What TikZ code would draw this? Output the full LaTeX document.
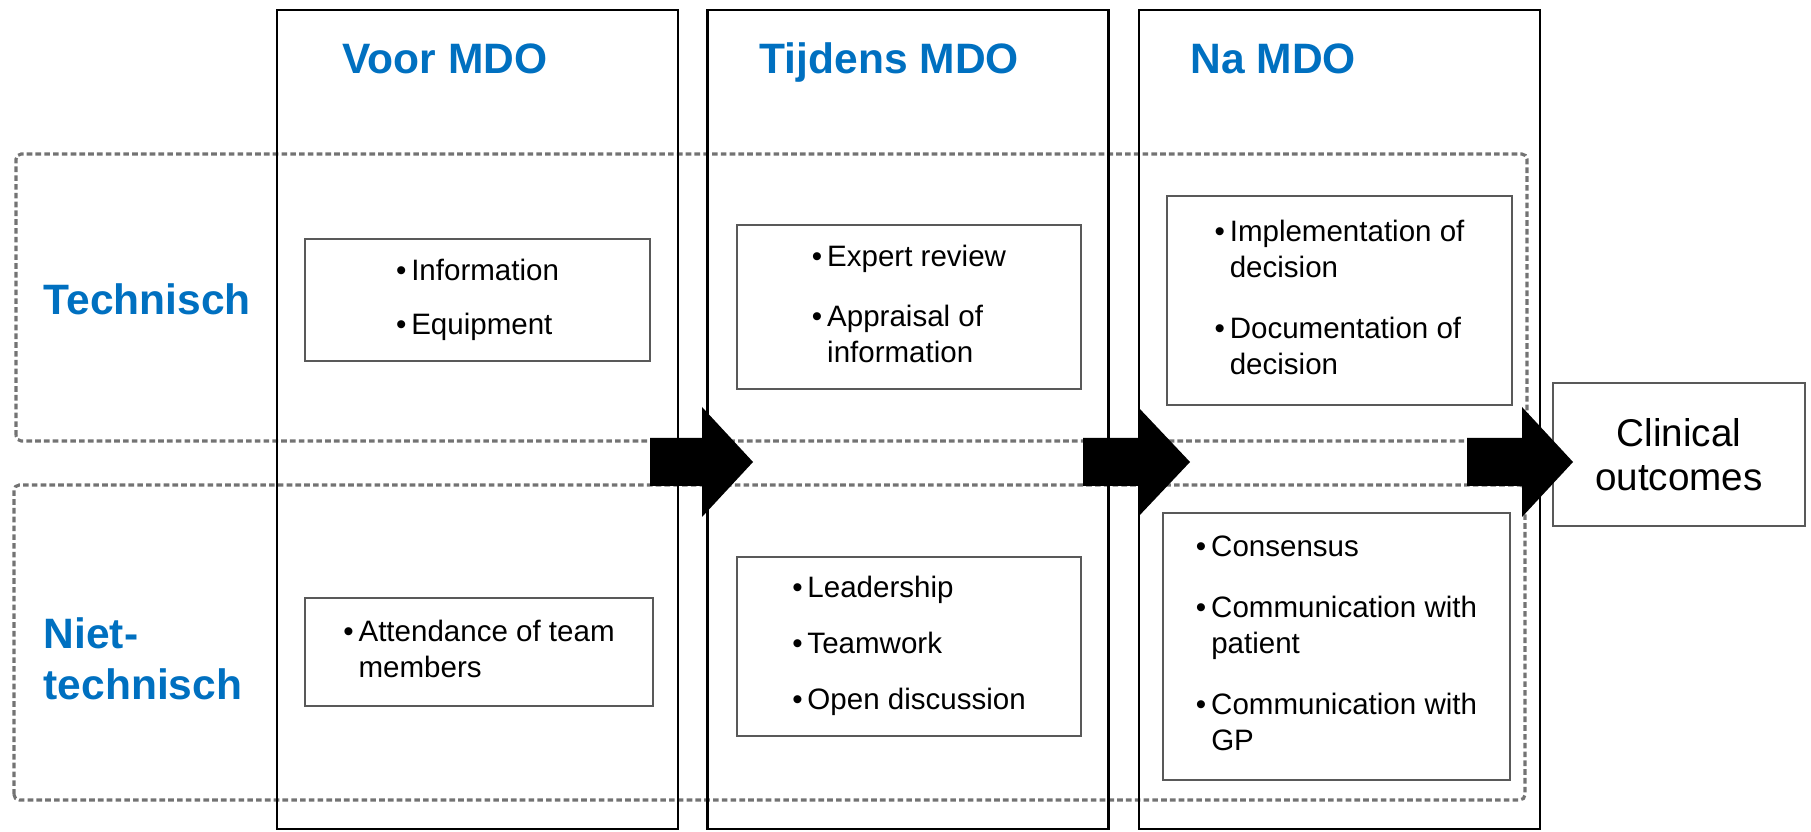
\documentclass[tikz,border=0pt]{standalone}
\usepackage{fontspec}
\setmainfont{Liberation Sans}
\usetikzlibrary{positioning}
\definecolor{mdoblue}{HTML}{0070C0}
\newcommand{\itemfont}{\fontsize{8.4}{10.2}\selectfont}
\tikzset{
  phase/.style={draw, thick, minimum width=4.01cm, minimum height=8.19cm},
  band/.style={draw=black!55, dash pattern=on 1.6pt off 0.9pt, line width=0.9pt, rounded corners=1.5pt},
  itembox/.style={draw=black!65, line width=0.6pt, inner sep=0pt},
  head/.style={text=mdoblue, font=\fontsize{12.1}{14.5}\selectfont\bfseries, align=left, inner sep=0pt},
}

\begin{document}
\begin{tikzpicture}
    \useasboundingbox (0,0) rectangle (18.11,8.32);
    \draw[band] (0.16,3.91) rectangle (15.27,6.78);
    \draw[band] (0.14,0.32) rectangle (15.25,3.47);

    \node[phase] (voor) at (4.775,4.125) {};
    \node[phase] (tijdens) at (9.08,4.125) {};
    \node[phase] (na) at (13.395,4.125) {};

    \node[head, anchor=base west] (hvoor) at (3.42,7.58) {Voor MDO};
    \node[head, anchor=base west] (htijdens) at (7.59,7.58) {Tijdens MDO};
    \node[head, anchor=base west] (hna) at (11.90,7.58) {Na MDO};
    \node[head, anchor=base west] (ltech) at (0.43,5.17) {Technisch};
    \node[head, anchor=west] (lniet) at (0.43,1.73) {Niet-\\technisch};

    \node[itembox, minimum width=3.45cm, minimum height=1.22cm] (voorT) at (4.775,5.32)
        {\itemfont\begin{tabular}{@{}l@{\,}l@{}}\textbullet & Information\\[5.2pt] \textbullet & Equipment\end{tabular}};
    \node[itembox, minimum width=3.48cm, minimum height=1.08cm] (voorN) at (4.79,1.80)
        {\itemfont\begin{tabular}{@{}l@{\,}l@{}}\textbullet & Attendance of team\\ & members\end{tabular}};
    \node[itembox, minimum width=3.44cm, minimum height=1.64cm] (tijdT) at (9.09,5.25)
        {\itemfont\begin{tabular}{@{}l@{\,}l@{}}\textbullet & Expert review\\[7pt] \textbullet & Appraisal of\\ & information\end{tabular}};
    \node[itembox, minimum width=3.44cm, minimum height=1.79cm] (tijdN) at (9.09,1.855)
        {\itemfont\begin{tabular}{@{}l@{\,}l@{}}\textbullet & Leadership\\[5.7pt] \textbullet & Teamwork\\[5.7pt] \textbullet & Open discussion\end{tabular}};
    \node[itembox, minimum width=3.45cm, minimum height=2.09cm] (naT) at (13.395,5.315)
        {\itemfont\begin{tabular}{@{}l@{\,}l@{}}\textbullet & Implementation of\\ & decision\\[7.2pt] \textbullet & Documentation of\\ & decision\end{tabular}};
    \node[itembox, minimum width=3.47cm, minimum height=2.67cm] (naN) at (13.365,1.855)
        {\itemfont\begin{tabular}{@{}l@{\,}l@{}}\textbullet & Consensus\\[7.2pt] \textbullet & Communication with\\ & patient\\[7.2pt] \textbullet & Communication with\\ & GP\end{tabular}};

    \node[itembox, minimum width=2.52cm, minimum height=1.43cm, align=center,
        font=\fontsize{11}{12.5}\selectfont] (clin) at (16.79,3.775) {Clinical\\outcomes};

    \foreach \xa/\xb/\xc in {6.50/7.02/7.53, 10.83/11.38/11.90, 14.67/15.22/15.73}
        \fill (\xa,3.46) -- (\xb,3.46) -- (\xb,3.15) -- (\xc,3.70) -- (\xb,4.25)
            -- (\xb,3.94) -- (\xa,3.94) -- cycle;
\end{tikzpicture}
\end{document}
